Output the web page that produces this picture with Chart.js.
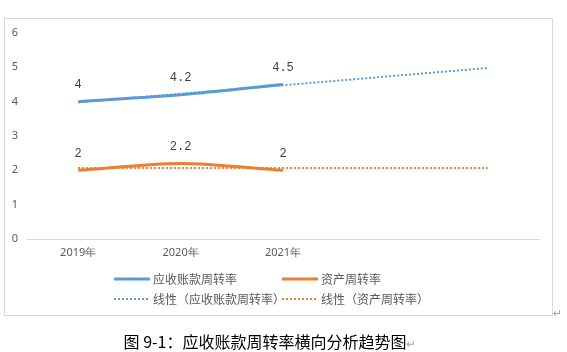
<!DOCTYPE html>
<html>
<head>
<meta charset="utf-8">
<script src="https://cdn.jsdelivr.net/npm/chart.js@4.4.1/dist/chart.umd.min.js"></script>
<style>
  body { margin: 0; background: #fff; }
  #page { position: relative; width: 567px; height: 352px; overflow: hidden; }
  #frame { position: absolute; left: 4px; top: 18px; width: 547px; height: 296px; border: 1px solid #d9d9d9; }
  #chart { position: absolute; left: 0; top: 0; }
  #caption { position: absolute; left: 0; width: 540px; top: 329px; text-align: center;
             font: 16px "Noto Sans CJK SC", sans-serif; color: #000; }
  #caption span { color: #a6a6a6; font-size: 12px; }
  #mark { position: absolute; left: 553px; top: 307px; color: #a6a6a6; font: 11px "DejaVu Sans", sans-serif; }
</style>
</head>
<body>
<div id="page">
  <div id="frame"></div>
  <canvas id="chart" width="567" height="352"></canvas>
  <div id="caption">图 9-1：应收账款周转率横向分析趋势图<span>↵</span></div>
  <div id="mark">↵</div>
</div>
<script>
// Chart data
const years = ['2019年', '2020年', '2021年', '', ''];
const arTurnover = [4, 4.2, 4.5];
const assetTurnover = [2, 2.2, 2];
// linear trend lines, extended two periods forward
const arTrend = [3.98, 4.23, 4.48, 4.73, 4.98];
const assetTrend = [2.07, 2.07, 2.07, 2.07, 2.07];
const yMin = 0, yMax = 6, yStep = 1;

const legendItems = [
    { text: '应收账款周转率', color: '#5b9bd5', dash: [] , width: 3 },
    { text: '资产周转率', color: '#ed7d31', dash: [], width: 3 },
    { text: '线性（应收账款周转率）', color: '#5b9bd5', dash: [2, 2], width: 2 },
    { text: '线性（资产周转率）', color: '#ed7d31', dash: [2, 2], width: 2 }
];

// value labels above the solid lines
const valueLabels = {
    id: 'valueLabels',
    afterDatasetsDraw(chart) {
        const ctx = chart.ctx;
        ctx.save();
        ctx.font = '12px "Liberation Mono", monospace';
        ctx.fillStyle = '#404040';
        ctx.textAlign = 'center';
        ctx.textBaseline = 'middle';
        [0, 1].forEach(i => {
            const meta = chart.getDatasetMeta(i);
            meta.data.forEach((pt, j) => {
                ctx.fillText(String(chart.data.datasets[i].data[j]), pt.x, pt.y - 17);
            });
        });
        ctx.restore();
    }
};

// two-by-two legend under the axis
const gridLegend = {
    id: 'gridLegend',
    afterDraw(chart) {
        const ctx = chart.ctx;
        const cols = [114, 282];
        const rows = [279, 299];
        ctx.save();
        ctx.font = '12px "Noto Sans CJK SC", sans-serif';
        ctx.textBaseline = 'middle';
        ctx.textAlign = 'left';
        legendItems.forEach((item, k) => {
            const x = cols[k % 2];
            const y = rows[Math.floor(k / 2)];
            ctx.strokeStyle = item.color;
            ctx.lineWidth = item.width;
            ctx.setLineDash(item.dash);
            ctx.beginPath();
            ctx.moveTo(x, y);
            ctx.lineTo(x + 36, y);
            ctx.stroke();
            ctx.setLineDash([]);
            ctx.fillStyle = '#595959';
            ctx.fillText(item.text, x + 39, y);
        });
        ctx.restore();
    }
};

const ctx = document.getElementById('chart').getContext('2d');
new Chart(ctx, {
    type: 'line',
    data: {
        labels: years,
        datasets: [
            { label: '应收账款周转率', data: arTurnover, borderColor: '#5b9bd5', borderWidth: 3, tension: 0.3, pointRadius: 0, fill: false },
            { label: '资产周转率', data: assetTurnover, borderColor: '#ed7d31', borderWidth: 3, tension: 0.3, pointRadius: 0, fill: false },
            { label: '线性（应收账款周转率）', data: arTrend, borderColor: '#5b9bd5', borderWidth: 2, borderDash: [2, 2], pointRadius: 0, fill: false },
            { label: '线性（资产周转率）', data: assetTrend, borderColor: '#ed7d31', borderWidth: 2, borderDash: [2, 2], pointRadius: 0, fill: false }
        ]
    },
    options: {
        responsive: false,
        animation: false,
        layout: { padding: { top: 33, right: 28, left: 0, bottom: 0 } },
        plugins: { legend: { display: false }, tooltip: { enabled: false } },
        scales: {
            x: {
                offset: true,
                grid: { display: false, drawTicks: false },
                border: { display: true, color: '#d9d9d9', width: 1 },
                ticks: { color: '#595959', font: { family: '"Noto Sans", sans-serif', size: 11 }, padding: 7, maxRotation: 0 },
                afterFit(scale) { scale.height = 113; }
            },
            y: {
                min: yMin,
                max: yMax,
                grid: { display: false, drawTicks: false },
                border: { display: false },
                ticks: { stepSize: yStep, color: '#595959', font: { family: '"Noto Sans", sans-serif', size: 11 }, padding: 9 },
                afterFit(scale) { scale.width = 27; }
            }
        }
    },
    plugins: [valueLabels, gridLegend]
});
</script>
</body>
</html>
